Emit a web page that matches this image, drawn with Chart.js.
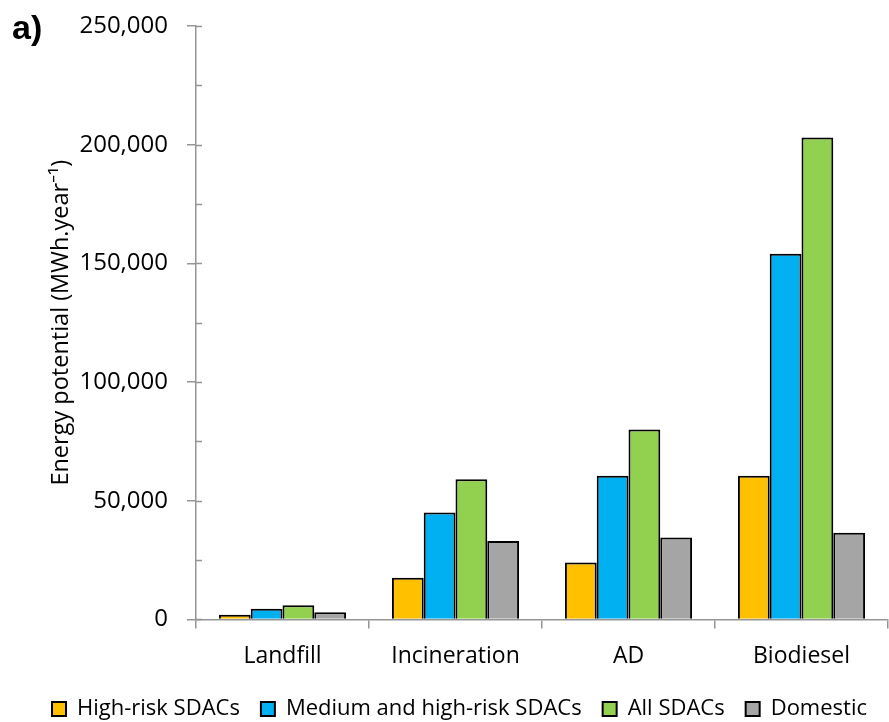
<!DOCTYPE html>
<html>
<head>
<meta charset="utf-8">
<script src="https://cdn.jsdelivr.net/npm/chart.js@4.4.0/dist/chart.umd.min.js"></script>
<style>
  html, body { margin: 0; padding: 0; background: #ffffff; }
  #wrap { width: 889px; height: 722px; position: relative; }
</style>
</head>
<body>
<div id="wrap"><canvas id="c" width="889" height="722"></canvas></div>
<script>
const categories = ["Landfill", "Incineration", "AD", "Biodiesel"];
const seriesNames = ["High-risk SDACs", "Medium and high-risk SDACs", "All SDACs", "Domestic"];
const highRisk = [2000, 17500, 24000, 60500];
const mediumHighRisk = [4500, 45000, 60500, 154000];
const allSdacs = [6000, 59000, 80000, 203000];
const domestic = [3000, 33000, 34500, 36500];
const yTicks = [0, 50000, 100000, 150000, 200000, 250000];

const colors = ["#FFC000", "#00B0F0", "#92D050", "#A5A5A5"];
const FONT = "'Open Sans', 'Noto Sans', sans-serif";
const AXIS_GREY = "#959595";

const seriesData = [highRisk, mediumHighRisk, allSdacs, domestic];

const innerTicks = {
  id: 'innerTicks',
  afterDraw(chart) {
    const ctx = chart.ctx;
    const y = chart.scales.y;
    const left = chart.chartArea.left;
    ctx.save();
    ctx.strokeStyle = AXIS_GREY;
    ctx.lineWidth = 1.5;
    for (let v = 0; v <= 250000; v += 25000) {
      const py = Math.round(y.getPixelForValue(v)) + 0.5;
      ctx.beginPath();
      ctx.moveTo(left, py);
      ctx.lineTo(left + 6, py);
      ctx.stroke();
    }
    ctx.fillStyle = '#000';
    ctx.font = "bold 34px 'Liberation Sans', Arial, sans-serif";
    ctx.textBaseline = 'alphabetic';
    ctx.textAlign = 'left';
    ctx.fillText('a)', 12, 39);
    ctx.restore();
  }
};

new Chart(document.getElementById('c'), {
  type: 'bar',
  data: {
    labels: categories,
    datasets: seriesNames.map((name, i) => ({
      label: name,
      data: seriesData[i],
      backgroundColor: colors[i],
      borderColor: '#000000',
      borderWidth: 2,
      categoryPercentage: 0.735,
      barPercentage: 1.0
    }))
  },
  options: {
    responsive: false,
    animation: false,
    devicePixelRatio: 1,
    layout: { padding: { top: 0, right: 1, left: 0, bottom: -8 } },
    plugins: {
      legend: {
        position: 'bottom',
        align: 'end',
        labels: {
          boxWidth: 14,
          boxHeight: 14,
          padding: 21,
          color: '#000',
          font: { family: FONT, size: 22 }
        }
      },
      tooltip: { enabled: false }
    },
    scales: {
      x: {
        afterFit(scale) { scale.height -= 7; },
        grid: {
          offset: true,
          drawOnChartArea: false,
          drawTicks: true,
          tickLength: 9,
          color: AXIS_GREY,
          lineWidth: 1.5
        },
        border: { color: AXIS_GREY, width: 1.5 },
        ticks: {
          color: '#000',
          padding: 14,
          font: { family: FONT, size: 23 }
        }
      },
      y: {
        min: 0,
        max: 250000,
        afterBuildTicks(scale) {
          scale.ticks = yTicks.map(v => ({ value: v }));
        },
        afterFit(scale) {
          scale.width = 196;
          scale.paddingTop = 26;
        },
        grid: {
          drawOnChartArea: false,
          drawTicks: true,
          tickLength: 9,
          color: AXIS_GREY,
          lineWidth: 1.5
        },
        border: { color: AXIS_GREY, width: 1.5 },
        ticks: {
          color: '#000',
          padding: 19,
          font: { family: FONT, size: 24 },
          callback: v => v.toLocaleString('en-US')
        },
        title: {
          display: true,
          text: 'Energy potential (MWh.year\u207B\u00B9)',
          color: '#000',
          font: { family: FONT, size: 23.5 },
          padding: { top: 47, bottom: 0 }
        }
      }
    }
  },
  plugins: [innerTicks]
});
</script>
</body>
</html>
